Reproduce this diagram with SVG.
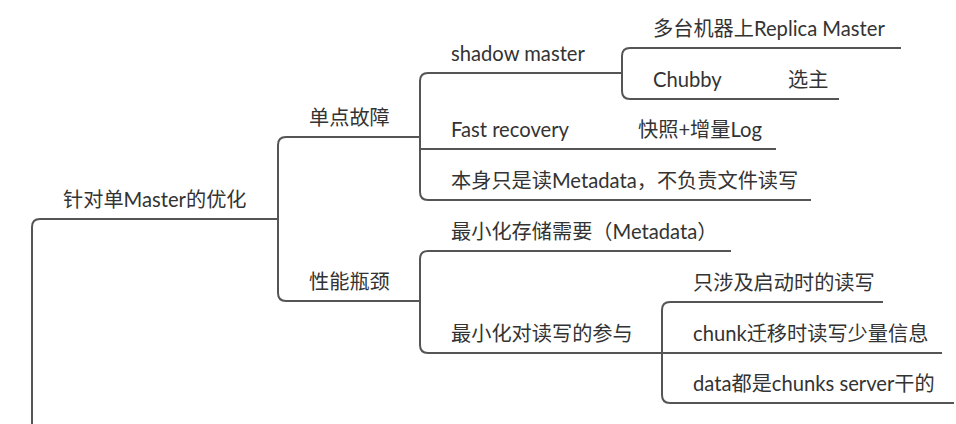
<svg xmlns="http://www.w3.org/2000/svg" width="956" height="424" viewBox="0 0 956 424">
<style>
text{font-family:Lato,"Noto Sans CJK SC",sans-serif;font-size:20.2px;fill:#333}
.c path{fill:none;stroke:#555;stroke-width:2}
</style>
<rect width="956" height="424" fill="#fff"/>
<g class="c" id="connectors">
<path d="M32,424 V227 Q32,219 40,219 H278"/>
<path d="M420,137 H286 Q278,137 278,145 V293 Q278,301 286,301 H420"/>
<path d="M622,73 H428 Q420,73 420,81 V192 Q420,200 428,200 H811"/>
<path d="M420,149 H776"/>
<path d="M901,48 H630 Q622,48 622,56 V91 Q622,99 630,99 H839"/>
<path d="M731,251 H428 Q420,251 420,259 V345 Q420,353 428,353 H662"/>
<path d="M883,302 H670 Q662,302 662,310 V395 Q662,403 670,403 H954"/>
<path d="M662,353 H942"/>
</g>
<g id="root"><text x="63" y="207">针对单Master的优化</text></g>
<g id="n1"><text x="309" y="125">单点故障</text></g>
<g id="n2"><text x="309" y="289">性能瓶颈</text></g>
<g id="n11"><text x="451" y="61">shadow master</text></g>
<g id="n12"><text y="137"><tspan x="451">Fast recovery</tspan><tspan x="638">快照+增量Log</tspan></text></g>
<g id="n13"><text x="451" y="188">本身只是读Metadata，不负责文件读写</text></g>
<g id="n111"><text x="653" y="36">多台机器上Replica Master</text></g>
<g id="n112"><text y="87"><tspan x="653">Chubby</tspan><tspan x="788">选主</tspan></text></g>
<g id="n21"><text x="451" y="239">最小化存储需要（Metadata）</text></g>
<g id="n22"><text x="451" y="341">最小化对读写的参与</text></g>
<g id="n221"><text x="693" y="290">只涉及启动时的读写</text></g>
<g id="n222"><text x="693" y="341">chunk迁移时读写少量信息</text></g>
<g id="n223"><text x="693" y="391">data都是chunks server干的</text></g>
</svg>
